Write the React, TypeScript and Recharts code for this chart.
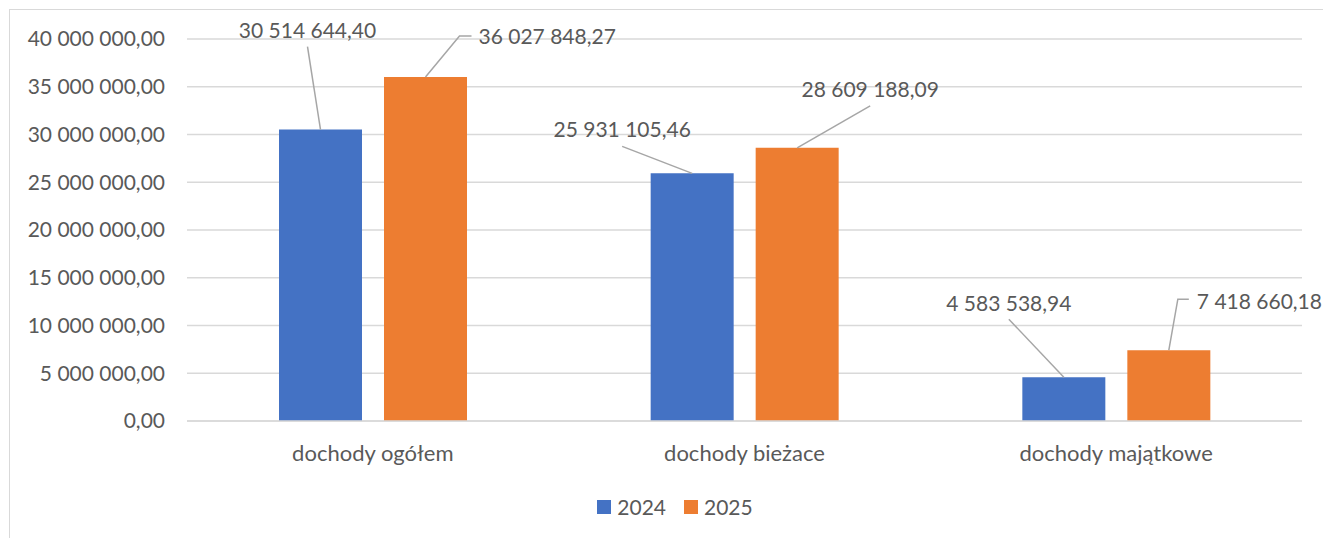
import React from 'react';
import { BarChart, Bar, XAxis, YAxis, CartesianGrid, LabelList } from 'recharts';

const categories = ['dochody ogółem', 'dochody bieżace', 'dochody majątkowe'];
const values2024 = [30514644.4, 25931105.46, 4583538.94];
const values2025 = [36027848.27, 28609188.09, 7418660.18];
const seriesNames = ['2024', '2025'];
const yTicks = [0, 5000000, 10000000, 15000000, 20000000, 25000000, 30000000, 35000000, 40000000];

const COLORS = ['#4472C4', '#ED7D31'];
const TEXT = '#595959';
const FONT = 'Lato, "Open Sans", sans-serif';
const FS = 21;

// label placement relative to bar top centre: leader line points + text anchor
type LabelPos = { pts: [number, number][]; tx: number; ty: number; anchor: 'start' | 'middle' | 'end' };
const labelPos2024: LabelPos[] = [
  { pts: [[0, 0], [-13, -83]], tx: -13, ty: -100, anchor: 'middle' },
  { pts: [[0, 0], [-70, -27]], tx: -70, ty: -45, anchor: 'middle' },
  { pts: [[0, 0], [-55, -58]], tx: -55, ty: -75, anchor: 'middle' },
];
const labelPos2025: LabelPos[] = [
  { pts: [[0, 0], [34, -41], [46, -41]], tx: 53, ty: -41, anchor: 'start' },
  { pts: [[0, 0], [73, -42]], tx: 73, ty: -59, anchor: 'middle' },
  { pts: [[0, 0], [9, -51], [20, -51]], tx: 28, ty: -50, anchor: 'start' },
];

const chartData = categories.map((name, i) => ({
  name,
  v2024: values2024[i],
  v2025: values2025[i],
}));

const fmt = (v: number) => {
  const [int, dec] = Number(v).toFixed(2).split('.');
  return `${int.replace(/\B(?=(\d{3})+(?!\d))/g, ' ')},${dec}`;
};

const makeLabel = (positions: LabelPos[]) => (props: any) => {
  const { x, y, width, value, index } = props;
  const p = positions[index];
  if (!p) return null;
  const cx = Number(x) + Number(width) / 2;
  const top = Number(y);
  const d = p.pts.map(([dx, dy], i) => `${i === 0 ? 'M' : 'L'}${cx + dx},${top + dy}`).join(' ');
  return (
    <g>
      <path d={d} stroke="#a6a6a6" strokeWidth={1.5} fill="none" />
      <text
        x={cx + p.tx}
        y={top + p.ty}
        textAnchor={p.anchor}
        dominantBaseline="central"
        fill={TEXT}
        fontFamily={FONT}
        fontSize={FS}
      >
        {fmt(value)}
      </text>
    </g>
  );
};

export default function App() {
  return (
    <div style={{ position: 'absolute', left: 0, top: 0, width: 1323, height: 538, overflow: 'hidden', background: '#fff' }}>
      <div
        style={{
          position: 'absolute',
          left: 9,
          top: 9,
          width: 1400,
          height: 600,
          borderTop: '1.5px solid #d9d9d9',
          borderLeft: '1.5px solid #d9d9d9',
        }}
      />
      <div style={{ position: 'absolute', left: 0, top: 0 }}>
        <BarChart
          width={1323}
          height={538}
          data={chartData}
          margin={{ top: 39, right: 21, bottom: 87, left: 0 }}
          barSize={83}
          barGap={22}
        >
          <CartesianGrid vertical={false} stroke="#d9d9d9" strokeWidth={1.7} />
          <XAxis
            dataKey="name"
            axisLine={{ stroke: '#d9d9d9', strokeWidth: 1.7 }}
            tickLine={false}
            tickSize={0}
            tickMargin={24}
            height={30}
            tick={{ fill: TEXT, fontSize: 22, fontFamily: FONT }}
          />
          <YAxis
            width={187}
            domain={[0, 40000000]}
            ticks={yTicks}
            axisLine={false}
            tickLine={false}
            tickSize={0}
            tickMargin={22}
            tickFormatter={fmt}
            tick={{ fill: TEXT, fontSize: FS, fontFamily: FONT }}
          />
          <Bar dataKey="v2024" name={seriesNames[0]} fill={COLORS[0]} isAnimationActive={false}>
            <LabelList dataKey="v2024" content={makeLabel(labelPos2024)} />
          </Bar>
          <Bar dataKey="v2025" name={seriesNames[1]} fill={COLORS[1]} isAnimationActive={false}>
            <LabelList dataKey="v2025" content={makeLabel(labelPos2025)} />
          </Bar>
        </BarChart>
      </div>
      <div
        style={{
          position: 'absolute',
          left: 0,
          top: 494,
          width: 1323,
          display: 'flex',
          justifyContent: 'center',
          alignItems: 'center',
          fontFamily: FONT,
          fontSize: FS,
          color: TEXT,
          paddingLeft: 27,
          boxSizing: 'border-box',
        }}
      >
        {seriesNames.map((s, i) => (
          <div key={s} style={{ display: 'flex', alignItems: 'center', marginRight: i === 0 ? 18 : 0 }}>
            <span style={{ display: 'inline-block', width: 14, height: 14, background: COLORS[i], marginRight: 6 }} />
            <span>{s}</span>
          </div>
        ))}
      </div>
    </div>
  );
}
